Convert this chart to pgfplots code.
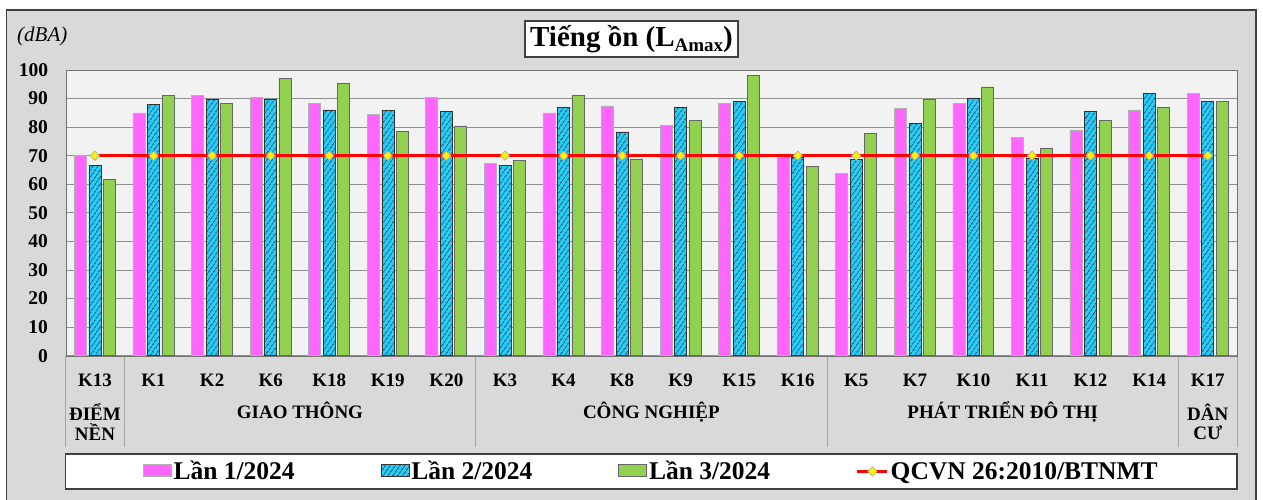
\documentclass[border=0pt]{standalone}
\usepackage{fontspec}
\setmainfont{Liberation Serif}
\usepackage{pgfplots}
\usepackage{pgfplotstable}
\pgfplotsset{compat=1.18}
\usetikzlibrary{patterns,patterns.meta}

\definecolor{framebg}{HTML}{D9D9D9}
\definecolor{framedraw}{HTML}{404040}
\definecolor{plotbg}{HTML}{F2F2F2}
\definecolor{gridgray}{HTML}{8F8F8F}
\definecolor{bandgray}{HTML}{A6A6A6}
\definecolor{lanpink}{HTML}{FF66FF}
\definecolor{lancyan}{HTML}{1ECFFF}
\definecolor{langreen}{HTML}{92D050}

% Noise levels (dBA) at each monitoring point, three rounds in 2024
\pgfplotstableread{
idx lan1 lan2 lan3 qcvn
0  70.0 66.5 61.8 70
1  85.0 87.9 91.0 70
2  91.0 89.6 88.2 70
3  90.4 89.9 97.1 70
4  88.3 86.0 95.2 70
5  84.4 85.8 78.4 70
6  90.4 85.5 80.4 70
7  67.2 66.7 68.4 70
8  85.0 86.9 91.0 70
9  87.4 78.3 68.7 70
10 80.6 86.9 82.3 70
11 88.3 89.1 98.1 70
12 70.5 69.5 66.3 70
13 63.8 68.7 77.8 70
14 86.5 81.3 89.9 70
15 88.3 90.2 94.1 70
16 76.3 69.1 72.7 70
17 79.0 85.5 82.4 70
18 86.0 91.7 86.9 70
19 91.7 88.9 89.1 70
}\noisedata

\pgfplotsset{
  barlegend/.style={legend image code/.code={\draw[##1] (0pt,-5pt) rectangle (28pt,7pt);}},
  limitlegend/.style={legend image code/.code={\draw[##1, line width=2.5pt, mark repeat=2, mark phase=2]
      plot coordinates {(0pt,0pt) (15pt,0pt) (30pt,0pt)};}},
}

\begin{document}
\begin{tikzpicture}[x=1pt,y=1pt]
\path[use as bounding box] (0,0) rectangle (1263,499);
\fill[white] (0,0) rectangle (1263,499);
% outer chart frame
\filldraw[fill=framebg, draw=framedraw, line width=1.5pt] (6.7,-5) rectangle (1256,489);
% title
\node[draw=framedraw, line width=1.2pt, fill=white, minimum width=213pt, minimum height=36pt, inner sep=0pt,
      font=\fontsize{29}{29}\selectfont\bfseries] at (631.5,460)
  {Tiếng ồn (L\raisebox{-5pt}{\fontsize{19}{19}\selectfont Amax})};
% unit label
\node[anchor=base west, inner sep=0pt, font=\fontsize{21}{21}\selectfont\itshape] at (17,457) {(dBA)};
% legend frame
\filldraw[fill=white, draw=framedraw, line width=1.2pt] (65.7,10) rectangle (1237,45);
% category band separators
\foreach \s in {65.7,124.3,475.7,827.0,1178.4,1237}{
  \draw[bandgray, line width=0.9pt] (\s,143.3) -- (\s,52.3);
}

\begin{axis}[
  at={(65.7pt,143.3pt)}, anchor=south west,
  scale only axis, width=1171.3pt, height=285.7pt,
  xmin=-0.5, xmax=19.5, ymin=0, ymax=100,
  clip=false,
  axis background/.style={fill=plotbg},
  axis line style={draw=gray!90!black},
  ymajorgrids, grid style={draw=gridgray, line width=0.9pt},
  ytick={0,10,...,100},
  xtick={0,...,19},
  xticklabels={K13,K1,K2,K6,K18,K19,K20,K3,K4,K8,K9,K15,K16,K5,K7,K10,K11,K12,K14,K17},
  major tick length=0pt,
  /pgf/number format/assume math mode=true,
  yticklabel style={font=\fontsize{19.5}{19.5}\selectfont\bfseries, anchor=east, inner sep=0pt, xshift=-17.5pt},
  xticklabel style={font=\fontsize{19}{19}\selectfont\bfseries, anchor=base, inner sep=0pt, yshift=-31pt},
  legend columns=4,
  legend style={at={(0.5,-0.405)}, anchor=center, draw=none, fill=none,
    font=\fontsize{25.5}{25.5}\selectfont\bfseries,
    nodes={inner sep=2pt},
    /tikz/every even column/.append style={column sep=84pt}},
]
\addplot[ybar, bar width=12pt, bar shift=-14.6pt, fill=lanpink, draw=gray!60, line width=0.6pt, barlegend]
  table[x=idx, y=lan1] {\noisedata};
\addplot[ybar, bar width=12pt, bar shift=0pt, fill=lancyan, draw=black!80, line width=0.6pt,
  postaction={pattern={Lines[angle=55,distance=4pt,line width=1pt]}, pattern color=black!85}, barlegend]
  table[x=idx, y=lan2] {\noisedata};
\addplot[ybar, bar width=12pt, bar shift=14.3pt, fill=langreen, draw=black!60, line width=0.6pt, barlegend]
  table[x=idx, y=lan3] {\noisedata};
\addplot[red, line width=3.5pt, mark=square*, mark size=3.3pt,
  mark options={rotate=45, fill=yellow, draw=gray!70, line width=0.6pt}, limitlegend]
  table[x=idx, y=qcvn] {\noisedata};
\legend{Lần 1/2024, Lần 2/2024, Lần 3/2024, QCVN 26:2010/BTNMT}

% group names
\tikzset{grp/.style={anchor=base, inner sep=0pt, font=\fontsize{19}{19}\selectfont\bfseries}}
\node[grp] at ([yshift=-65pt]axis cs:0,0) {ĐIỂM};
\node[grp] at ([yshift=-85pt]axis cs:0,0) {NỀN};
\node[grp] at ([yshift=-63pt]axis cs:3.5,0) {GIAO THÔNG};
\node[grp] at ([yshift=-63pt]axis cs:9.5,0) {CÔNG NGHIỆP};
\node[grp] at ([yshift=-63pt]axis cs:15.5,0) {PHÁT TRIỂN ĐÔ THỊ};
\node[grp] at ([yshift=-65pt]axis cs:19,0) {DÂN};
\node[grp] at ([yshift=-84pt]axis cs:19,0) {CƯ};
\end{axis}
\end{tikzpicture}
\end{document}
